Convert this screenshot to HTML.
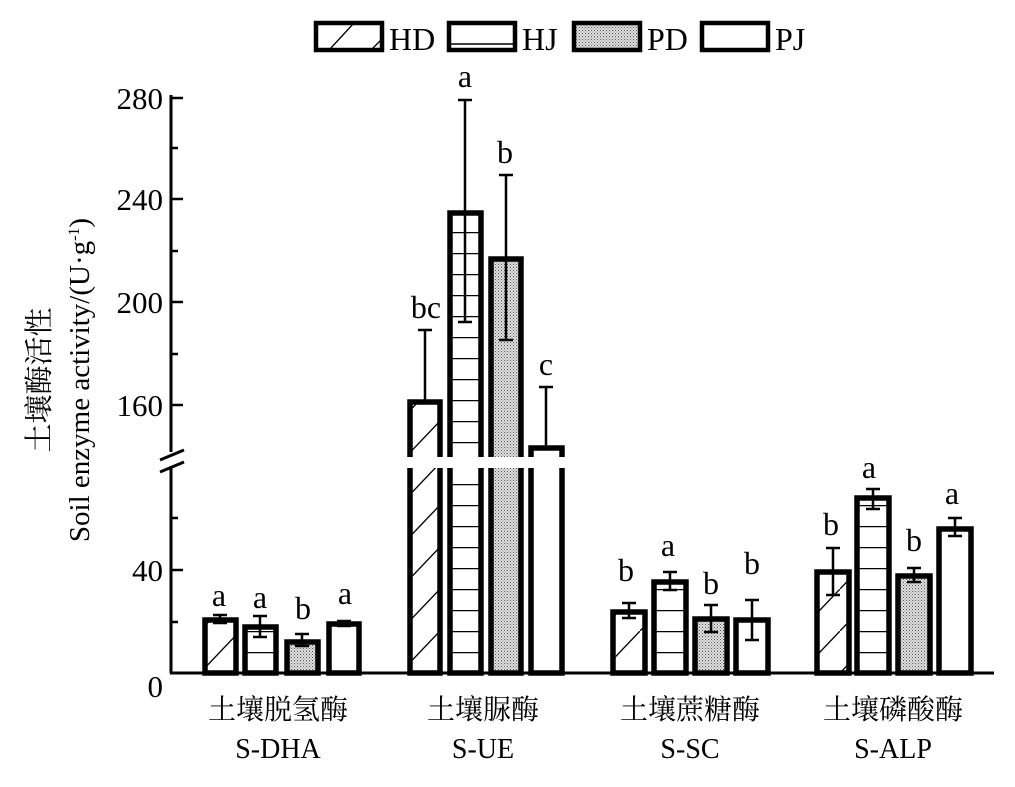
<!DOCTYPE html>
<html><head><meta charset="utf-8"><style>body{margin:0;background:#fff}svg{display:block}text{font-family:"Liberation Serif","Noto Serif CJK SC",serif;fill:#000}</style></head><body>
<svg width="1015" height="787" viewBox="0 0 1015 787" xmlns="http://www.w3.org/2000/svg">
<defs>
<pattern id="hd" patternUnits="userSpaceOnUse" width="40" height="42" x="0" y="673"><line x1="0" y1="42" x2="40" y2="0" stroke="#000" stroke-width="1.3"/></pattern>
<pattern id="hj" patternUnits="userSpaceOnUse" width="40" height="21" x="0" y="673"><line x1="0" y1="0.5" x2="40" y2="0.5" stroke="#000" stroke-width="1.5"/></pattern>
<pattern id="pd" patternUnits="userSpaceOnUse" width="3" height="3"><rect width="3" height="3" fill="#e0e0e0"/><rect width="1" height="1" fill="#555"/><rect x="1.5" y="1.5" width="1" height="1" fill="#777"/></pattern>
</defs>
<!-- legend -->
<g stroke="#000" stroke-width="4.5">
<rect x="316" y="23" width="66" height="27" fill="#fff"/>
<rect x="449" y="23" width="66" height="27" fill="#fff"/>
<rect x="574" y="23" width="66" height="27" fill="url(#pd)"/>
<rect x="702" y="23" width="66" height="27" fill="#fff"/>
</g>
<line x1="330" y1="49" x2="354" y2="23" stroke="#000" stroke-width="1.3"/>
<line x1="372" y1="49" x2="381" y2="40" stroke="#000" stroke-width="1.3"/>
<line x1="449" y1="44" x2="515" y2="44" stroke="#000" stroke-width="1.5"/>
<g font-size="32"><text x="389" y="50">HD</text><text x="522" y="50">HJ</text><text x="647" y="50">PD</text><text x="775" y="50">PJ</text></g>
<!-- axes -->
<g stroke="#000" stroke-width="3" fill="none">
<line x1="171" y1="95" x2="171" y2="452"/>
<line x1="171" y1="467" x2="171" y2="673"/>
<line x1="170" y1="673" x2="994" y2="673"/>
<line x1="160" y1="460" x2="184" y2="450"/>
<line x1="160" y1="472" x2="184" y2="462"/>
</g>
<g stroke="#000" stroke-width="2.5">
<line x1="171" y1="98" x2="183" y2="98"/><line x1="171" y1="148" x2="178" y2="148"/>
<line x1="171" y1="199" x2="183" y2="199"/><line x1="171" y1="251" x2="178" y2="251"/>
<line x1="171" y1="302" x2="183" y2="302"/><line x1="171" y1="354" x2="178" y2="354"/>
<line x1="171" y1="405" x2="183" y2="405"/>
<line x1="171" y1="518" x2="178" y2="518"/><line x1="171" y1="570" x2="183" y2="570"/>
<line x1="171" y1="622" x2="178" y2="622"/>
</g>
<g font-size="31" text-anchor="end">
<text x="163" y="109">280</text><text x="163" y="210">240</text><text x="163" y="313">200</text><text x="163" y="416">160</text><text x="163" y="581">40</text><text x="163" y="697">0</text>
</g>
<text transform="translate(49,380) rotate(-90)" font-size="29" text-anchor="middle">土壤酶活性</text>
<text transform="translate(89,380) rotate(-90)" font-size="29" text-anchor="middle">Soil enzyme activity/(U·g<tspan font-size="16" dy="-10">-1</tspan><tspan dy="10">)</tspan></text>
<!-- bars -->
<g stroke="#000" stroke-width="5.5">
<rect x="205" y="620" width="31" height="53" fill="url(#hd)"/>
<rect x="245" y="627" width="31" height="46" fill="url(#hj)"/>
<rect x="287" y="642" width="31" height="31" fill="url(#pd)"/>
<rect x="329" y="624" width="30" height="49" fill="#fff"/>
<rect x="410" y="402" width="30" height="271" fill="url(#hd)"/>
<rect x="450" y="213" width="31" height="460" fill="url(#hj)"/>
<rect x="491" y="259" width="30" height="414" fill="url(#pd)"/>
<rect x="531" y="448" width="31" height="225" fill="#fff"/>
<rect x="613" y="612" width="32" height="61" fill="url(#hd)"/>
<rect x="654" y="582" width="32" height="91" fill="url(#hj)"/>
<rect x="695" y="619" width="32" height="54" fill="url(#pd)"/>
<rect x="736" y="620" width="32" height="53" fill="#fff"/>
<rect x="817" y="572" width="32" height="101" fill="url(#hd)"/>
<rect x="857" y="498" width="32" height="175" fill="url(#hj)"/>
<rect x="898" y="576" width="32" height="97" fill="url(#pd)"/>
<rect x="939" y="529" width="32" height="144" fill="#fff"/>
</g>
<!-- break gap -->
<rect x="400" y="457" width="170" height="11" fill="#fff"/>
<!-- error bars -->
<g stroke="#000" stroke-width="2.5">
<path d="M220 615V623M213 615H227M213 623H227"/>
<path d="M260 616V637M253 616H267M253 637H267"/>
<path d="M302 634V646M295 634H309M295 646H309"/>
<path d="M344 621V626M337 621H351M337 626H351"/>
<path d="M425 330V402M418 330H432"/>
<path d="M465 100V322M458 100H472M458 322H472"/>
<path d="M506 175V340M499 175H513M499 340H513"/>
<path d="M546 387V448M539 387H553"/>
<path d="M629 603V618M622 603H636M622 618H636"/>
<path d="M670 572V590M663 572H677M663 590H677"/>
<path d="M711 605V632M704 605H718M704 632H718"/>
<path d="M752 600V640M745 600H759M745 640H759"/>
<path d="M833 548V595M826 548H840M826 595H840"/>
<path d="M873 489V509M866 489H880M866 509H880"/>
<path d="M914 568V582M907 568H921M907 582H921"/>
<path d="M955 518V536M948 518H962M948 536H962"/>
</g>
<g font-size="32" text-anchor="middle">
<text x="219" y="606">a</text><text x="260" y="608">a</text><text x="303" y="619">b</text><text x="345" y="604">a</text>
<text x="426" y="318">bc</text><text x="465" y="87">a</text><text x="505" y="163">b</text><text x="546" y="375">c</text>
<text x="626" y="581">b</text><text x="668" y="556">a</text><text x="711" y="594">b</text><text x="752" y="574">b</text>
<text x="831" y="535">b</text><text x="869" y="478">a</text><text x="914" y="551">b</text><text x="952" y="504">a</text>
</g>
<g font-size="28" text-anchor="middle">
<text x="278" y="719">土壤脱氢酶</text><text x="483" y="719">土壤脲酶</text><text x="690" y="719">土壤蔗糖酶</text><text x="893" y="719">土壤磷酸酶</text>
<text x="278" y="758">S-DHA</text><text x="483" y="758">S-UE</text><text x="690" y="758">S-SC</text><text x="893" y="758">S-ALP</text>
</g>
</svg>
</body></html>
